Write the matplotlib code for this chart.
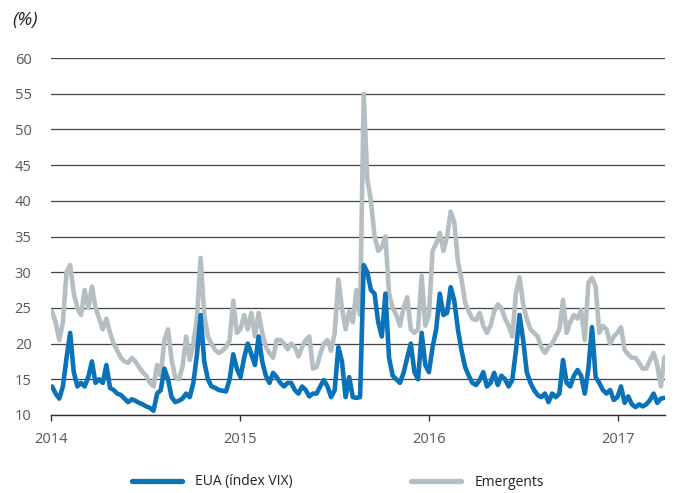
import matplotlib
matplotlib.use("Agg")
import matplotlib.pyplot as plt
import pandas as pd

# Weekly readings (Fridays) from 2014-01-03
start_date = "2014-01-03"

vix = [14, 13, 12.3, 14, 18, 21.5, 16, 14, 14.5, 14,
       15.3, 17.5, 14.5, 15, 14.5, 17, 13.8, 13.5, 13, 12.8,
       12.3, 11.8, 12.2, 12, 11.7, 11.5, 11.2, 11, 10.6, 13,
       13.5, 16.5, 15, 12.5, 11.8, 12, 12.3, 13, 12.5, 14.5,
       18.5, 24, 17.5, 15, 14, 13.8, 13.5, 13.4, 13.3, 15,
       18.5, 16.5, 15.3, 18, 20, 18.5, 17, 21, 17.5, 15.5,
       14.5, 15.9, 15.3, 14.5, 14, 14.5, 14.5, 13.5, 13, 14,
       13.5, 12.6, 13, 13, 14, 14.9, 14, 12.5, 13.5, 19.5,
       17.5, 12.5, 15.3, 12.5, 12.4, 12.5, 31, 30, 27.5, 27,
       23, 21, 27, 18, 15.5, 15, 14.5, 15.9, 18, 20,
       16, 15, 21.5, 17, 16, 19.5, 22, 27, 24, 24.3,
       27.9, 26, 22, 19, 16.7, 15.5, 14.5, 14.2, 14.9, 16,
       14, 14.5, 15.9, 14.2, 15.5, 15, 14, 14.9, 19, 24,
       20.5, 16, 14.5, 13.5, 12.8, 12.5, 13, 11.8, 13, 12.5,
       13, 17.7, 14.5, 14, 15.5, 16.3, 15.5, 13, 16.5, 22.3,
       15.3, 14.5, 13.5, 13, 13.5, 12.1, 12.5, 14, 11.7, 12.6,
       11.5, 11.1, 11.5, 11.2, 11.5, 12.1, 13, 11.7, 12.3, 12.4]

emergents = [24.5, 23, 20.5, 23, 30, 31, 27, 25, 24, 27.5,
             25, 28, 25, 23.5, 22, 23.5, 21.5, 20, 19, 18,
             17.5, 17.3, 18, 17.5, 16.7, 16, 15.5, 14.5, 14, 17,
             15.5, 20.5, 22, 17.7, 15.3, 15, 16.7, 21, 17.7, 20,
             23.7, 32, 24, 21, 20, 19.1, 18.7, 19, 19.5, 20.5,
             26, 21.5, 22, 24, 22, 24.3, 21, 24.3, 21.5, 19.5,
             18.7, 18, 20.5, 20.5, 20, 19.2, 20, 19.5, 18.2, 19.5,
             20.5, 21, 16.5, 16.7, 18.5, 20, 20.5, 19, 21.5, 29,
             25, 22, 24.5, 23, 27.5, 24, 55, 43, 40, 35,
             33, 33.5, 35, 27, 25, 24, 22.5, 25, 26.5, 22,
             21.5, 22, 29.5, 22.5, 24, 33, 34, 35.5, 33, 35,
             38.5, 37, 31.5, 29, 25.7, 24.5, 23.5, 23.3, 24.3, 22.5,
             21.5, 22.5, 24.5, 25.5, 25, 23.5, 22.5, 21, 27, 29.3,
             25.5, 23.5, 22, 21.5, 21, 19.5, 18.7, 19.5, 20, 21,
             22, 26.1, 21.5, 23, 24, 23.5, 24.7, 20.5, 28.5, 29.2,
             28, 21.5, 22.5, 22, 20, 21, 21.5, 22.3, 19.1, 18.5,
             18, 18, 17.3, 16.5, 16.5, 17.7, 18.7, 17, 14, 18.1]

year_ticks = ["2014", "2015", "2016", "2017"]
y_ticks = [10, 15, 20, 25, 30, 35, 40, 45, 50, 55, 60]
labels = ["EUA (índex VIX)", "Emergents"]

dates = pd.date_range(start_date, periods=len(vix), freq="7D")

plt.rcParams['font.family'] = ['Open Sans', 'DejaVu Sans']

fig = plt.figure(figsize=(6.76, 4.93), dpi=100)
ax = fig.add_axes([51/676, 1-415/493, (665-51)/676, (415-58)/493])

blue = "#0a72b8"
grey = "#b5bec2"

ax.plot(dates, emergents, color=grey, lw=3.3, solid_joinstyle="round",
        solid_capstyle="round", label=labels[1], zorder=3)
ax.plot(dates, vix, color=blue, lw=3.3, solid_joinstyle="round",
        solid_capstyle="round", label=labels[0], zorder=4)

ax.set_ylim(10, 60)
ax.set_xlim(pd.Timestamp("2014-01-01"), pd.Timestamp("2017-04-01"))
ax.set_yticks(y_ticks)
ax.yaxis.grid(True, color="#444444", lw=0.9)
ax.set_axisbelow(True)
for s in ["top", "right", "left"]:
    ax.spines[s].set_visible(False)
ax.spines["bottom"].set_color("#333333")
ax.spines["bottom"].set_linewidth(1.0)
ax.tick_params(axis="y", length=0, pad=14, labelsize=10.5, labelcolor="#555555")
xt = [pd.Timestamp(y + "-01-01") for y in year_ticks]
ax.set_xticks(xt)
ax.set_xticklabels(year_ticks)
ax.tick_params(axis="x", direction="out", length=4, width=1, color="#333333",
               labelsize=10.5, labelcolor="#555555", pad=8)

fig.text(12/676, 1-20/493, "(%)", fontsize=13.5, style="italic", color="#222222",
         va="center", ha="left")

handles, labs = ax.get_legend_handles_labels()
order = [1, 0]
leg = fig.legend([handles[i] for i in order], [labs[i] for i in order],
                 loc="center", bbox_to_anchor=(0.5, 1-482/493), ncol=2, frameon=False,
                 fontsize=10, handlelength=3.6, columnspacing=8.5, handletextpad=1.0)
for t in leg.get_texts():
    t.set_color("#222222")
for l in leg.get_lines():
    l.set_linewidth(3.8)
    l.set_solid_capstyle("round")

fig.savefig("out.png", dpi=100)
